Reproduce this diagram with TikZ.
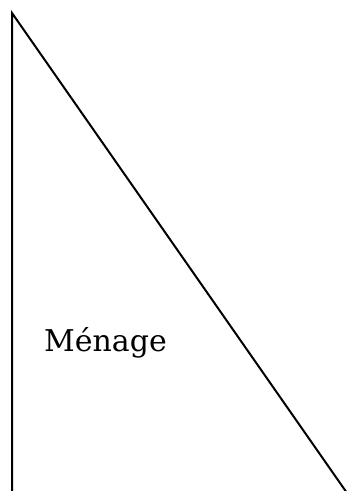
\documentclass[tikz,border=0pt]{standalone}
\usepackage{fontspec}
\setmainfont{DejaVu Serif}
\usetikzlibrary{positioning}
\tikzset{
    % triangle edges
    edge/.style={line width=2pt, black},
    % label
    lbl/.style={inner sep=0pt, anchor=base west, font=\fontsize{30}{36}\selectfont},
}
\begin{document}
\begin{tikzpicture}[x=1pt, y=1pt]
\useasboundingbox (0,0) rectangle (348,491);
\coordinate (apex)  at (12,478);
\coordinate (foot)  at (12,-2);
\coordinate (tip)   at (347,-2);

\draw[edge] (foot) -- (apex) -- (tip);

\node[lbl] (menage) at (44,139) {Ménage};
\end{tikzpicture}
\end{document}
